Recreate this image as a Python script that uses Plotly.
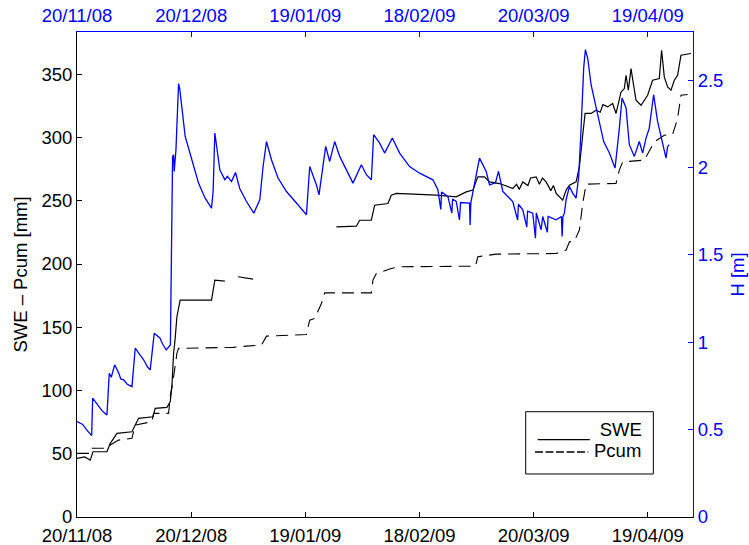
import pandas as pd
import plotly.graph_objects as go

start = pd.Timestamp("2008-11-20")
x_end = "2009-04-30 21:00"
tick_dates = ["2008-11-20", "2008-12-20", "2009-01-19", "2009-02-18", "2009-03-20", "2009-04-19"]
left_ticks = [0, 50, 100, 150, 200, 250, 300, 350]
right_ticks = [0, 0.5, 1, 1.5, 2, 2.5]

# Snow depth H [m] (days since 20/11/08)
h_day = [0, 1.5, 2.5, 3.6, 3.85, 4.12, 5.5, 6.5, 7.87, 8.48, 9.0, 9.9, 10.94, 11.5, 12.26, 13.2,
         14.44, 15.3, 16.5, 17.5, 18.5, 19.24, 20.29, 21.78, 22.5, 23.44, 24.54, 24.67, 24.93,
         25.12, 25.38, 25.54, 26.0, 26.25, 26.69, 27.0, 27.56, 28.43, 30.18, 31.94, 33.67, 35.35,
         35.77, 36.22, 37.53, 38.85, 39.5, 40.6, 41.65, 42.78, 44.54, 46.46, 48.03, 48.9, 49.79,
         51.1, 52.83, 55.04, 57.66, 60.29, 61.15, 62.91, 63.6, 64.65, 65.35, 66.4, 67.72, 69.03,
         70.79, 72.52, 74.72, 76.04, 77.35, 77.95, 79.53, 80.84, 82.86, 84.78, 87.4, 90.03, 93.52,
         94.83, 95.6, 95.8, 97.45, 98.5, 98.7, 99.66, 100.5, 100.8, 103.15, 103.3, 103.5, 104.91,
         105.77, 107.53, 108.4, 109.97, 110.76, 111.89, 114.51, 115.8, 116.0, 117.14, 118.2,
         118.4, 119.76, 120.47, 120.7, 121.96, 122.2, 122.39, 123.6, 123.8, 125.91, 127.3, 127.48,
         127.7, 128.08, 128.53, 129.4, 130.26, 131.15, 131.84, 132.47, 133.15, 133.6, 134.2,
         135.09, 136.4, 137.27, 138.4, 139.9, 141.39, 142.52, 143.23, 144.28, 145.14, 146.46,
         147.77, 148.64, 149.53, 150.39, 151.52, 152.57, 153.88, 154.78, 155.2, 155.64]
h_val = [0.546, 0.53, 0.50, 0.47, 0.466, 0.680, 0.64, 0.61, 0.584, 0.823, 0.80, 0.871, 0.825, 0.79,
         0.785, 0.76, 0.746, 0.966, 0.93, 0.90, 0.86, 0.842, 1.052, 1.025, 0.99, 0.956, 0.985,
         1.243, 1.701, 2.064, 2.073, 1.978, 2.10, 2.235, 2.480, 2.45, 2.331, 2.178, 2.045, 1.911,
         1.825, 1.768, 1.863, 2.198, 1.987, 1.930, 1.95, 1.920, 1.972, 1.879, 1.806, 1.739, 1.816,
         2.006, 2.149, 2.045, 1.940, 1.863, 1.797, 1.730, 2.006, 1.902, 1.844, 2.026, 2.121, 2.035,
         2.149, 2.064, 1.987, 1.911, 2.016, 1.959, 1.930, 2.188, 2.140, 2.083, 2.169, 2.083, 2.006,
         1.968, 1.930, 1.873, 1.76, 1.86, 1.835, 1.74, 1.82, 1.806, 1.70, 1.80, 1.797, 1.672, 1.80,
         1.949, 2.054, 1.978, 1.901, 1.913, 1.978, 1.863, 1.806, 1.70, 1.79, 1.758, 1.66, 1.75,
         1.739, 1.596, 1.74, 1.644, 1.72, 1.720, 1.63, 1.72, 1.701, 1.72, 1.605, 1.72, 1.739,
         1.816, 1.892, 1.854, 1.825, 1.949, 2.226, 2.570, 2.675, 2.627, 2.474, 2.341, 2.245,
         2.149, 2.083, 1.997, 2.226, 2.398, 2.341, 2.131, 2.064, 2.149, 2.083, 2.169, 2.226,
         2.417, 2.264, 2.149, 2.054, 2.12, 2.131]

# SWE [mm] (None = missing data)
swe_day = [0, 2, 3.49, 4.2, 7.87, 8.74, 10.5, 14.44, 15.3, 16.19, 19.95, 20.55, 23.62, 24.49, 24.93,
           25.38, 25.8, 26.25, 27.11, 35.35, 36.22, 38.85, 39.5, 42.34, 46.27, 47, 68.16, 73.41,
           74.28, 77.35, 78.22, 81.71, 82.6, 83.91, 94.41, 99.66, 102.28, 104.02, 105.33, 107.09,
           108.4, 111.02, 114.51, 115.5, 116.2, 117.14, 118.5, 119.2, 120.66, 121.5, 122.3, 123.28,
           124.5, 125.2, 125.91, 127.64, 128.53, 129.4, 131.15, 132.02, 132.89, 133.52, 135.09,
           136.4, 137.5, 138.2, 139.45, 140.76, 141.65, 142.97, 143.83, 144.28, 144.88, 145.59,
           146.27, 146.9, 148.22, 149.95, 151.26, 153.02, 153.62, 154.33, 155.2, 156.09, 156.96,
           157.83, 158.71, 161.34]
swe_val = [46.4, 47.5, 45.0, 51.6, 51.6, 58.2, 66.1, 67.4, 72.7, 78.0, 79.2, 85.9, 86.7, 91.1, 102.9,
           129.3, 141.2, 158.3, 171.4, 171.4, 187.3, 186.5, None, 189.9, 188.0, None, 229.4, 229.9,
           234.6, 234.6, 246.5, 247.8, 254.4, 255.8, 254.4, 253.1, 257.0, 258.4, 268.9, 268.9,
           264.9, 263.6, 259.7, 263, 259, 264.9, 262, 268, 268.9, 263, 268, 264.9, 258, 262, 255.8,
           250.5, 258.4, 262.3, 264.9, 276.8, 301.8, 319.0, 319.0, 321.6, 320, 326, 324.2, 326.9,
           319.0, 336.0, 338.7, 349.2, 337.4, 354.5, 341.3, 329.5, 325.5, 333.4, 345.3, 346.6,
           369.0, 347.9, 340.0, 337.4, 345.3, 349.2, 365.0, 366.4]

# Cumulated precipitation Pcum [mm]
pcum_day = [0, 3.67, 3.94, 7.87, 8.74, 10.94, 14.44, 15.3, 19.69, 20.13, 24.07, 24.49, 25.38, 26.25,
            26.69, 34.12, 41.02, 44.54, 48.48, 49.79, 60.29, 61.15, 62.47, 64.23, 65.09, 77.35,
            77.77, 78.66, 82.6, 84.78, 101.4, 104.72, 105.33, 106.64, 110.16, 125.91, 128.53,
            129.4, 130.71, 132.02, 132.89, 133.78, 141.65, 142.52, 143.39, 149.08, 150.84, 151.71,
            154.33, 156.51, 157.82, 158.71, 160.45]
pcum_val = [50.3, 50.3, 54.3, 54.3, 56.9, 60.8, 62.2, 72.7, 75.3, 81.9, 81.9, 95.0, 110.8, 129.3,
            133.3, 133.8, 134.1, 135.1, 135.9, 143.0, 144.3, 155.6, 157.0, 168.8, 177.2, 177.2,
            187.3, 192.5, 196.5, 197.8, 197.8, 198.3, 205.7, 206.2, 207.8, 208.3, 211.0, 217.5,
            218.1, 226.8, 247.8, 263.1, 263.7, 274.2, 280.7, 282.1, 291.3, 296.5, 301.8, 302.4,
            315.0, 333.4, 334.0]


def to_dates(days):
    return [start + pd.Timedelta(days=d) for d in days]


BLUE = "#0000FF"
FONT = "Liberation Sans, Arial, Helvetica, sans-serif"
FS = 18.5

fig = go.Figure()
fig.add_trace(go.Scatter(x=to_dates(swe_day), y=swe_val, mode="lines", connectgaps=False,
                         line=dict(color="black", width=1.2), name="SWE"))
fig.add_trace(go.Scatter(x=to_dates(pcum_day), y=pcum_val, mode="lines",
                         line=dict(color="black", width=1.1, dash="12px,7px"), name="Pcum"))
fig.add_trace(go.Scatter(x=to_dates(h_day), y=h_val, mode="lines", xaxis="x2", yaxis="y2",
                         line=dict(color=BLUE, width=1.3), name="H"))

xr = [start, pd.Timestamp(x_end)]
common_x = dict(type="date", range=xr, tickvals=tick_dates, tickformat="%d/%m/%y",
                ticks="inside", ticklen=5, showline=True, showgrid=False, zeroline=False,
                automargin=False, ticklabelstandoff=2)
fig.update_layout(
    width=749, height=545,
    margin=dict(l=77, r=56, t=32, b=28, autoexpand=False),
    paper_bgcolor="white", plot_bgcolor="white",
    showlegend=False,
    font=dict(family=FONT, size=FS, color="black"),
    xaxis=dict(**common_x, linecolor="black", tickcolor="black",
               tickfont=dict(color="black", size=FS)),
    xaxis2=dict(**common_x, overlaying="x", side="top", anchor="y2", linecolor=BLUE,
                tickcolor=BLUE, tickfont=dict(color=BLUE, size=FS)),
    yaxis=dict(range=[0, 383.4], tickvals=left_ticks, ticks="inside", ticklen=5, showline=True,
               linecolor="black", tickcolor="black", showgrid=False, zeroline=False,
               automargin=False, tickfont=dict(color="black", size=FS),
               title=dict(text="SWE – Pcum [mm]", font=dict(size=FS, color="black"), standoff=8)),
    yaxis2=dict(range=[0, 2.776], tickvals=right_ticks, overlaying="y", side="right", anchor="x2",
                ticks="inside", ticklen=5, showline=True, linecolor=BLUE, tickcolor=BLUE,
                showgrid=False, zeroline=False, automargin=False,
                tickfont=dict(color=BLUE, size=FS),
                title=dict(text="H [m]", font=dict(size=FS, color=BLUE), standoff=8)),
)

# legend box drawn as in the original (text samples inside a framed box)
fig.add_shape(type="rect", xref="paper", yref="paper", x0=0.7284, x1=0.9356, y0=0.0887, y1=0.2171,
              line=dict(color="black", width=1), fillcolor="white", layer="above")
fig.add_annotation(xref="paper", yref="paper", x=0.7435, y=0.1794, xanchor="left", yanchor="middle",
                   text="_____  SWE", showarrow=False, font=dict(size=FS, color="black"))
fig.add_shape(type="line", xref="paper", yref="paper", x0=0.7435, x1=0.8300, y0=0.1340, y1=0.1340,
              line=dict(color="black", width=1.3, dash="8px,2.5px"), layer="above")
fig.add_annotation(xref="paper", yref="paper", x=0.8360, y=0.1361, xanchor="left", yanchor="middle",
                   text="Pcum", showarrow=False, font=dict(size=FS, color="black"))

fig.write_html("out.html")
